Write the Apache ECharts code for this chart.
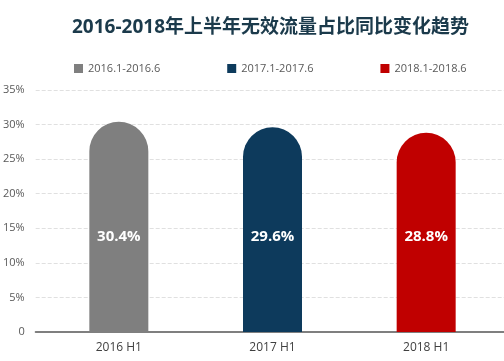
<!DOCTYPE html>
<html><head><meta charset="utf-8">
<script src="https://cdn.jsdelivr.net/npm/echarts@6/dist/echarts.min.js"></script>
<style>html,body{margin:0;padding:0;background:#fff}#c{width:504px;height:361px}</style>
</head><body><div id="c"></div>
<script>
const categories = ['2016 H1', '2017 H1', '2018 H1'];
const seriesNames = ['2016.1-2016.6', '2017.1-2017.6', '2018.1-2018.6'];
const values = [30.4, 29.6, 28.8];
const colors = ['#7f7f7f', '#0d3a5c', '#c00000'];
const yTicks = [0, 5, 10, 15, 20, 25, 30, 35];

const chart = echarts.init(document.getElementById('c'));
const font = '"Open Sans", "Noto Sans CJK SC", sans-serif';
const series = seriesNames.map((name, i) => ({
  name, type: 'bar', xAxisIndex: 1, yAxisIndex: 1,
  data: categories.map((c, j) => j === i ? values[j] : '-'),
  barWidth: 59, barGap: '-100%',
  itemStyle: { color: colors[i], borderRadius: [29.5, 29.5, 0, 0] },
  label: { show: true, position: 'insideBottom', distance: 88, color: '#fff', fontWeight: 'bold', fontSize: 15, fontFamily: font, formatter: p => p.value + '%' }
}));
chart.setOption({
  animation: false,
  textStyle: { fontFamily: font },
  title: { text: '2016-2018年上半年无效流量占比同比变化趋势', left: 67, top: 13,
    textStyle: { fontSize: 19, fontWeight: 'bold', color: '#1b3a4b', fontFamily: font } },
  legend: { top: 58, left: 69, itemWidth: 9, itemHeight: 9, itemGap: 67, icon: 'rect',
    data: seriesNames, textStyle: { fontSize: 11, color: '#595959', fontFamily: font } },
  grid: [
    { left: 33, right: 0, top: 90, bottom: 29 },
    { left: 42, right: 1, top: 90, bottom: 29 }
  ],
  xAxis: [
    { type: 'value', gridIndex: 0, min: 0, max: 1, axisLabel: { show: false }, axisTick: { show: false }, splitLine: { show: false },
      axisLine: { show: true, lineStyle: { color: '#7f7f7f', width: 2 } } },
    { type: 'category', gridIndex: 1, data: categories, axisLine: { show: false }, axisTick: { show: false },
      axisLabel: { color: '#404040', fontSize: 12, margin: 10 } }
  ],
  yAxis: [
    { type: 'value', gridIndex: 0, min: 0, max: 35, interval: 5, axisLine: { show: false }, axisTick: { show: false },
      axisLabel: { color: '#595959', fontSize: 11, margin: 11, formatter: v => v === 0 ? '0' : v + '%' },
      splitLine: { show: true, lineStyle: { color: '#e0e0e0', type: 'dashed' } } },
    { type: 'value', gridIndex: 1, min: 0, max: 35, interval: 5, show: false }
  ],
  series
});
</script></body></html>
